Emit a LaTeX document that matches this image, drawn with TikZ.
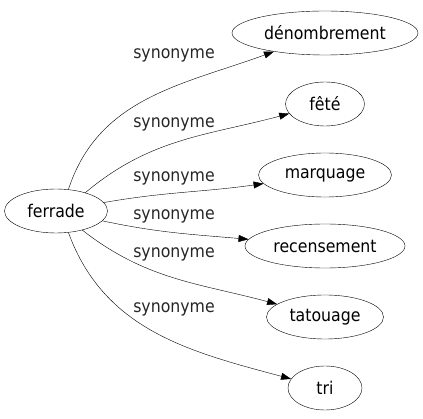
\documentclass[tikz,border=0pt]{standalone}
\usepackage{fontspec}
\setmainfont{DejaVu Sans Condensed}
\usetikzlibrary{shapes.geometric, arrows.meta}

\begin{document}
\begin{tikzpicture}[x=1pt, y=-1pt, font=\fontsize{17.5}{20}\selectfont]
    % Define styles
    \tikzstyle{word} = [ellipse, draw=black, thin, inner sep=0pt, minimum height=44pt]
    \tikzstyle{rel} = [inner sep=0pt, text=black!85]
    \tikzstyle{arrow} = [thin, -{Triangle[length=10pt, width=7pt]}]

    \useasboundingbox (0,0) rectangle (423,419);

    % Nodes
    \node (ferrade) [word, minimum width=103pt] at (56,211) {ferrade};
    \node (denom) [word, minimum width=186pt] at (325,33) {dénombrement};
    \node (fete) [word, minimum width=79pt] at (325,104) {fêté};
    \node (marquage) [word, minimum width=133pt] at (325,175) {marquage};
    \node (recens) [word, minimum width=160pt] at (325,246) {recensement};
    \node (tatouage) [word, minimum width=117pt] at (325,317) {tatouage};
    \node (tri) [word, minimum width=74pt] at (325,388) {tri};

    % Labels
    \node (l1) [rel] at (174,55) {synonyme};
    \node (l2) [rel] at (174,124) {synonyme};
    \node (l3) [rel] at (174,178) {synonyme};
    \node (l4) [rel] at (174,216) {synonyme};
    \node (l5) [rel] at (174,254) {synonyme};
    \node (l6) [rel] at (174,309) {synonyme};

    % Arrows
    \draw [arrow] (ferrade.60) to[out=72, in=200] (denom);
    \draw [arrow] (ferrade.32) to[out=40, in=195] (fete);
    \draw [arrow] (ferrade) to[out=10, in=188] (marquage);
    \draw [arrow] (ferrade) to[out=-12, in=175] (recens);
    \draw [arrow] (ferrade.-36) to[out=-38, in=165] (tatouage);
    \draw [arrow] (ferrade.-60) to[out=-70, in=165] (tri);
\end{tikzpicture}
\end{document}
